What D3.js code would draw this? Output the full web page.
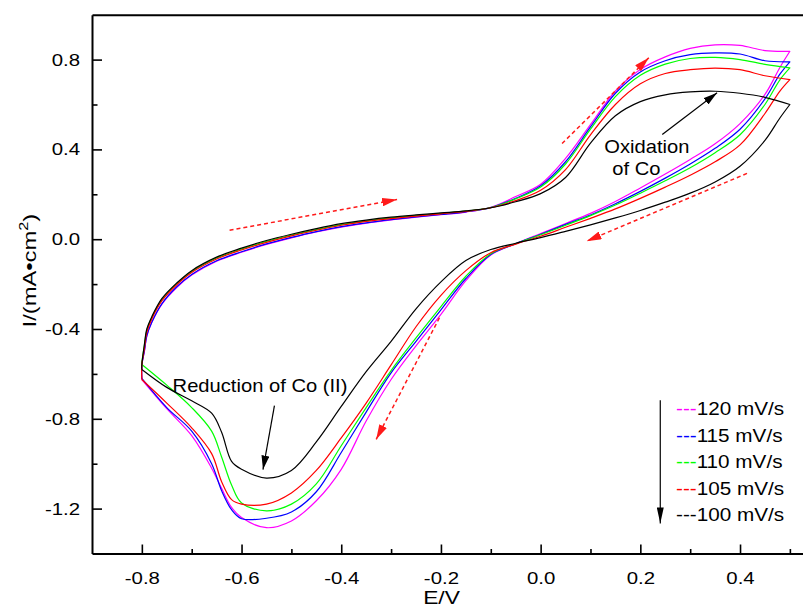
<!DOCTYPE html>
<html>
<head>
<meta charset="utf-8">
<script src="https://cdn.jsdelivr.net/npm/d3@7"></script>
<style>
  body { margin: 0; background: #fff; }
  svg { display: block; }
  text { font-family: Arial, "Liberation Sans", sans-serif; fill: #000; }
</style>
</head>
<body>
<div id="chart"></div>
<script>
// potential grids (V) for the anodic (forward) and cathodic (reverse) sweeps
const potentialFwd = [-0.8, -0.8, -0.795, -0.79, -0.78, -0.76, -0.73, -0.70, -0.65, -0.60, -0.55, -0.50, -0.45, -0.40, -0.35, -0.30, -0.25, -0.20, -0.15, -0.10, -0.05, 0.00, 0.05, 0.10, 0.15, 0.20, 0.25, 0.30, 0.35, 0.40, 0.45, 0.50];
const potentialRev = [0.50, 0.48, 0.45, 0.40, 0.35, 0.30, 0.25, 0.20, 0.15, 0.10, 0.05, 0.00, -0.05, -0.10, -0.15, -0.20, -0.25, -0.30, -0.35, -0.40, -0.45, -0.50, -0.55, -0.60, -0.62, -0.64, -0.66, -0.70, -0.75, -0.80];

// current density (mA/cm2)
const fwd120 = [-0.625, -0.56, -0.50, -0.43, -0.37, -0.29, -0.215, -0.16, -0.098, -0.058, -0.023, 0.006, 0.032, 0.054, 0.071, 0.086, 0.098, 0.109, 0.121, 0.142, 0.19, 0.245, 0.36, 0.51, 0.66, 0.756, 0.812, 0.85, 0.866, 0.863, 0.84, 0.837];
const rev120 = [0.837, 0.765, 0.645, 0.515, 0.425, 0.355, 0.29, 0.228, 0.168, 0.115, 0.07, 0.025, -0.02, -0.07, -0.185, -0.335, -0.475, -0.625, -0.81, -1.025, -1.165, -1.255, -1.285, -1.24, -1.195, -1.11, -1.02, -0.875, -0.755, -0.625];
const fwd115 = [-0.62, -0.56, -0.50, -0.43, -0.37, -0.288, -0.212, -0.157, -0.096, -0.056, -0.021, 0.008, 0.034, 0.056, 0.073, 0.087, 0.099, 0.110, 0.122, 0.141, 0.182, 0.238, 0.345, 0.50, 0.65, 0.745, 0.795, 0.822, 0.83, 0.825, 0.795, 0.79];
const rev115 = [0.79, 0.735, 0.625, 0.49, 0.405, 0.335, 0.272, 0.213, 0.158, 0.108, 0.066, 0.022, -0.02, -0.068, -0.175, -0.315, -0.455, -0.595, -0.77, -0.95, -1.125, -1.215, -1.243, -1.245, -1.205, -1.12, -1.00, -0.855, -0.75, -0.62];
const fwd110 = [-0.558, -0.55, -0.475, -0.405, -0.35, -0.27, -0.198, -0.144, -0.084, -0.044, -0.01, 0.018, 0.043, 0.065, 0.082, 0.095, 0.105, 0.115, 0.125, 0.141, 0.18, 0.232, 0.335, 0.49, 0.635, 0.73, 0.78, 0.805, 0.81, 0.80, 0.779, 0.763];
const rev110 = [0.763, 0.71, 0.60, 0.465, 0.385, 0.318, 0.26, 0.205, 0.152, 0.105, 0.062, 0.02, -0.02, -0.065, -0.165, -0.30, -0.44, -0.585, -0.75, -0.92, -1.09, -1.18, -1.21, -1.175, -1.095, -0.97, -0.855, -0.75, -0.65, -0.558];
const fwd105 = [-0.625, -0.56, -0.49, -0.415, -0.355, -0.275, -0.203, -0.148, -0.088, -0.048, -0.014, 0.015, 0.04, 0.062, 0.079, 0.092, 0.103, 0.113, 0.124, 0.140, 0.172, 0.218, 0.31, 0.465, 0.60, 0.692, 0.738, 0.755, 0.762, 0.755, 0.728, 0.711];
const rev105 = [0.711, 0.66, 0.56, 0.42, 0.345, 0.285, 0.232, 0.182, 0.135, 0.093, 0.053, 0.013, -0.022, -0.06, -0.14, -0.25, -0.39, -0.56, -0.73, -0.885, -1.03, -1.13, -1.18, -1.18, -1.16, -1.08, -0.955, -0.84, -0.73, -0.625];
const fwd100 = [-0.58, -0.56, -0.47, -0.40, -0.345, -0.265, -0.195, -0.14, -0.08, -0.04, -0.006, 0.022, 0.047, 0.069, 0.085, 0.098, 0.108, 0.117, 0.126, 0.140, 0.167, 0.203, 0.275, 0.428, 0.55, 0.613, 0.643, 0.656, 0.659, 0.650, 0.632, 0.600];
const rev100 = [0.60, 0.54, 0.44, 0.325, 0.255, 0.205, 0.165, 0.128, 0.095, 0.064, 0.035, 0.007, -0.018, -0.046, -0.095, -0.19, -0.31, -0.455, -0.59, -0.745, -0.903, -1.03, -1.064, -1.025, -0.99, -0.86, -0.775, -0.72, -0.66, -0.58];

const scanRates = ["120 mV/s", "115 mV/s", "110 mV/s", "105 mV/s", "100 mV/s"];
const seriesFwd = [fwd120, fwd115, fwd110, fwd105, fwd100];
const seriesRev = [rev120, rev115, rev110, rev105, rev100];
const seriesColors = ["#ff00ff", "#0000ff", "#00ff00", "#ff0000", "#000000"];

// axis ticks
const xMajor = [-0.8, -0.6, -0.4, -0.2, 0.0, 0.2, 0.4];
const xMinor = [-0.7, -0.5, -0.3, -0.1, 0.1, 0.3, 0.5];
const yMajor = [-1.2, -0.8, -0.4, 0.0, 0.4, 0.8];
const yMinor = [-1.0, -0.6, -0.2, 0.2, 0.6];

// sweep direction arrows [E0, I0, E1, I1]
const sweepArrows = [
  [-0.624, 0.040, -0.288, 0.177],
  [0.043, 0.426, 0.217, 0.808],
  [0.414, 0.293, 0.092, -0.009],
  [-0.203, -0.350, -0.330, -0.892]
];
// peak annotations
const peakNotes = [
  {lines: ["Oxidation", "of Co"], at: [[0.213, 0.386], [0.192, 0.288]], arrow: [0.244, 0.466, 0.354, 0.652]},
  {lines: ["Reduction of Co (II)"], at: [[-0.563, -0.681]], arrow: [-0.534, -0.741, -0.557, -1.026]}
];
// scan-rate arrow in the legend [E, Itop, Ibottom]
const rateArrow = [0.24, -0.717, -1.266];

const W = 803, H = 609;
const svg = d3.select("#chart").append("svg")
    .attr("width", W)
    .attr("height", H);

const x = d3.scaleLinear().domain([-0.9, 0.55]).range([92, 814.8]);
const y = d3.scaleLinear().domain([-1.4, 1.0]).range([553.5, 14.7]);

const defs = svg.append("defs");
function head(id, len, half, color) {
  defs.append("marker")
      .attr("id", id)
      .attr("markerUnits", "userSpaceOnUse")
      .attr("viewBox", `0 0 ${len} ${half * 2}`)
      .attr("refX", len).attr("refY", half)
      .attr("markerWidth", len).attr("markerHeight", half * 2)
      .attr("orient", "auto")
      .append("path")
      .attr("d", `M0,0L${len},${half}L0,${half * 2}Z`)
      .attr("fill", color);
}
head("redHead", 15, 4.2, "#ff1a1a");
head("blackHead", 14, 4, "#000");
head("rateHead", 16, 3.5, "#000");

// curves
const line = d3.line()
    .x(d => x(d[0]))
    .y(d => y(d[1]))
    .curve(d3.curveCatmullRom.alpha(0.5));

const loops = scanRates.map((name, k) => ({
  name: name,
  color: seriesColors[k],
  points: potentialFwd.map((e, i) => [e, seriesFwd[k][i]])
      .concat(potentialRev.map((e, i) => [e, seriesRev[k][i]]))
}));

svg.append("g").selectAll("path")
    .data(loops)
    .join("path")
    .attr("d", d => line(d.points))
    .attr("fill", "none")
    .attr("stroke", d => d.color)
    .attr("stroke-width", 1.2)
    .attr("stroke-linejoin", "round");

// axes
const fmt = d => d.toFixed(1);
const tickFont = 17, stretch = 1.2;

const gx = svg.append("g").attr("transform", `translate(0,${y(-1.4)})`);
gx.call(d3.axisBottom(x).tickValues(xMajor).tickFormat(fmt).tickSize(-9).tickSizeOuter(0).tickPadding(18));
const gxm = svg.append("g").attr("transform", `translate(0,${y(-1.4)})`);
gxm.call(d3.axisBottom(x).tickValues(xMinor).tickFormat("").tickSize(-4.5).tickSizeOuter(0));
gxm.select(".domain").remove();

const gy = svg.append("g").attr("transform", `translate(${x(-0.9)},0)`);
gy.call(d3.axisLeft(y).tickValues(yMajor).tickFormat(fmt).tickSize(-10).tickSizeOuter(0).tickPadding(10));
const gym = svg.append("g").attr("transform", `translate(${x(-0.9)},0)`);
gym.call(d3.axisLeft(y).tickValues(yMinor).tickFormat("").tickSize(-5.5).tickSizeOuter(0));
gym.select(".domain").remove();

const gt = svg.append("g").attr("transform", `translate(0,${y(1.0)})`);
gt.call(d3.axisTop(x).tickValues([]).tickSizeOuter(0));

svg.selectAll(".domain").attr("stroke", "#000").attr("stroke-width", 2);
svg.selectAll(".tick line").attr("stroke", "#000").attr("stroke-width", 1.6);
svg.selectAll(".tick text")
    .attr("font-size", tickFont)
    .attr("font-family", "Arial, 'Liberation Sans', sans-serif")
    .attr("fill", "#000")
    .attr("transform", `scale(${stretch},1)`);

// axis titles
svg.append("text")
    .attr("transform", `translate(${x(-0.9) + (803 - x(-0.9)) / 2 - 6},604) scale(1.2,1)`)
    .attr("text-anchor", "middle")
    .attr("font-size", 19)
    .text("E/V");

const yt = svg.append("text")
    .attr("transform", `translate(36,${y(-0.14)}) rotate(-90) scale(1.25,1)`)
    .attr("text-anchor", "middle")
    .attr("font-size", 19);
yt.append("tspan").text("I/(mA\u2022cm");
yt.append("tspan").attr("font-size", 13).attr("dy", -8).text("2");
yt.append("tspan").attr("dy", 8).text(")");

// sweep direction arrows
svg.append("g").selectAll("line")
    .data(sweepArrows)
    .join("line")
    .attr("x1", d => x(d[0])).attr("y1", d => y(d[1]))
    .attr("x2", d => x(d[2])).attr("y2", d => y(d[3]))
    .attr("stroke", "#ff1a1a")
    .attr("stroke-width", 1.5)
    .attr("stroke-dasharray", "4,3")
    .attr("marker-end", "url(#redHead)");

// peak annotations
const notes = svg.append("g");
peakNotes.forEach(n => {
  n.lines.forEach((t, i) => {
    notes.append("text")
        .attr("transform", `translate(${x(n.at[i][0])},${y(n.at[i][1])}) scale(1.12,1)`)
        .attr("text-anchor", "middle")
        .attr("font-size", 18)
        .text(t);
  });
  notes.append("line")
      .attr("x1", x(n.arrow[0])).attr("y1", y(n.arrow[1]))
      .attr("x2", x(n.arrow[2])).attr("y2", y(n.arrow[3]))
      .attr("stroke", "#000")
      .attr("stroke-width", 1.2)
      .attr("marker-end", "url(#blackHead)");
});

// legend
svg.append("line")
    .attr("x1", x(rateArrow[0])).attr("y1", y(rateArrow[1]))
    .attr("x2", x(rateArrow[0])).attr("y2", y(rateArrow[2]))
    .attr("stroke", "#000")
    .attr("stroke-width", 1.2)
    .attr("marker-end", "url(#rateHead)");

const legend = svg.append("g");
loops.forEach((d, i) => {
  const t = legend.append("text")
      .attr("transform", `translate(676,${415 + i * 26.5}) scale(1.15,1)`)
      .attr("font-size", 18);
  t.append("tspan").attr("fill", d.color).text("---");
  t.append("tspan").text(d.name);
});
</script>
</body>
</html>
